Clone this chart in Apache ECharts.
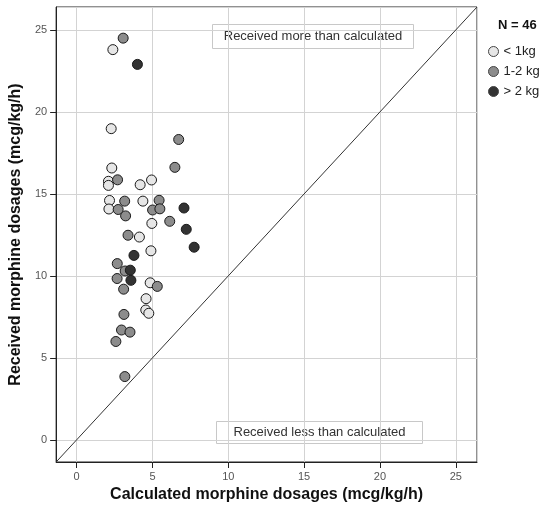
<!DOCTYPE html>
<html>
<head>
<meta charset="utf-8">
<script src="https://cdn.jsdelivr.net/npm/echarts@6/dist/echarts.min.js"></script>
<style>
  html, body { margin: 0; padding: 0; background: #fff; }
  #main { width: 547px; height: 508px; }
</style>
</head>
<body>
<div id="main"></div>
<script>
  // calculated (x) vs received (y) morphine, mcg/kg/h, by weight group
  var calcLight = [2.39, 2.28, 2.32, 2.1, 2.1, 4.19, 4.94, 2.17, 4.37, 2.13, 4.96, 4.14, 4.9, 4.85, 4.58, 4.56, 4.76]
  var recvLight = [23.8, 18.98, 16.58, 15.77, 15.52, 15.56, 15.85, 14.6, 14.56, 14.08, 13.2, 12.37, 11.53, 9.58, 8.61, 7.92, 7.72]

  var calcMid = [3.07, 6.73, 6.48, 2.7, 3.17, 5.44, 2.74, 5.01, 5.49, 3.23, 6.14, 3.39, 2.68, 3.2, 2.67, 3.1, 5.32, 3.12, 2.96, 3.52, 2.59, 3.18]
  var recvMid = [24.5, 18.32, 16.62, 15.86, 14.56, 14.61, 14.05, 14.02, 14.09, 13.66, 13.33, 12.48, 10.75, 10.3, 9.84, 9.19, 9.36, 7.65, 6.7, 6.57, 6.0, 3.86]

  var calcHeavy = [4.01, 7.08, 7.23, 7.75, 3.78, 3.54, 3.58]
  var recvHeavy = [22.9, 14.14, 12.84, 11.75, 11.25, 10.35, 9.73]

  var groupNames = ['< 1kg', '1-2 kg', '> 2 kg']
  var groupColors = ['#e6e6e6', '#8c8c8c', '#333333']
  var axisMin = -1.35
  var axisMax = 26.4

  function pairs (xs, ys) {
    return xs.map(function (x, i) { return [x, ys[i]] })
  }

  var font = 'Liberation Sans, Arial, sans-serif'

  function makeAxis (name, gap) {
    return {
      type: 'value',
      min: axisMin,
      max: axisMax,
      name: name,
      nameLocation: 'middle',
      nameGap: gap,
      nameTextStyle: { fontSize: 16, fontWeight: 'bold', color: '#111', fontFamily: font },
      axisLine: { show: true, onZero: false, lineStyle: { color: '#222', width: 1 } },
      axisTick: { show: true, length: 6, lineStyle: { color: '#222' } },
      axisLabel: { showMinLabel: false, showMaxLabel: false, margin: 9, fontSize: 11, color: '#555', fontFamily: font },
      splitLine: { show: true, lineStyle: { color: '#d3d3d3', width: 1 } }
    }
  }

  var myChart = echarts.init(document.getElementById('main'))
  var groups = [[calcLight, recvLight], [calcMid, recvMid], [calcHeavy, recvHeavy]]

  var series = groups.map(function (g, i) {
    return {
      name: groupNames[i],
      type: 'scatter',
      symbol: 'circle',
      symbolSize: 10,
      data: pairs(g[0], g[1]),
      itemStyle: { color: groupColors[i], borderColor: '#1a1a1a', borderWidth: 1, opacity: 1 },
      z: 3 + i
    }
  })

  // identity line y = x across the whole frame
  series.push({
    name: 'identity',
    type: 'line',
    data: [[axisMin, axisMin], [axisMax, axisMax]],
    symbol: 'none',
    silent: true,
    lineStyle: { color: '#333', width: 1 },
    z: 2
  })

  myChart.setOption({
    animation: false,
    grid: { left: 55, top: 7, right: 70, bottom: 46, show: true, borderColor: '#222', borderWidth: 1, backgroundColor: '#fff' },
    xAxis: makeAxis('Calculated morphine dosages (mcg/kg/h)', 24),
    yAxis: makeAxis('Received morphine dosages (mcg/kg/h)', 30),
    legend: {
      data: groupNames,
      orient: 'vertical',
      left: 483,
      top: 40,
      itemWidth: 10,
      itemHeight: 10,
      itemGap: 7,
      icon: 'circle',
      itemStyle: { borderWidth: 1, borderColor: '#444' },
      textStyle: { fontSize: 13, color: '#222', fontFamily: font }
    },
    graphic: [
      { type: 'text', left: 498, top: 19, style: { text: 'N = 46', font: 'bold 13px ' + font, fill: '#111' } },
      {
        type: 'group', left: 212, top: 24, z: 10,
        children: [
          { type: 'rect', shape: { x: 0, y: 0, width: 201, height: 24 }, style: { fill: '#fff', stroke: '#c8c8c8', lineWidth: 1 } },
          { type: 'text', x: 100.5, y: 12, style: { text: 'Received more than calculated', font: '13px ' + font, fill: '#333', align: 'center', verticalAlign: 'middle' } }
        ]
      },
      {
        type: 'group', left: 216, top: 421, z: 10,
        children: [
          { type: 'rect', shape: { x: 0, y: 0, width: 206, height: 22 }, style: { fill: '#fff', stroke: '#c8c8c8', lineWidth: 1 } },
          { type: 'text', x: 103, y: 11, style: { text: 'Received less than calculated', font: '13px ' + font, fill: '#333', align: 'center', verticalAlign: 'middle' } }
        ]
      }
    ],
    series: series
  })

  window.addEventListener('resize', function () {
    myChart.resize()
  })
</script>
</body>
</html>
